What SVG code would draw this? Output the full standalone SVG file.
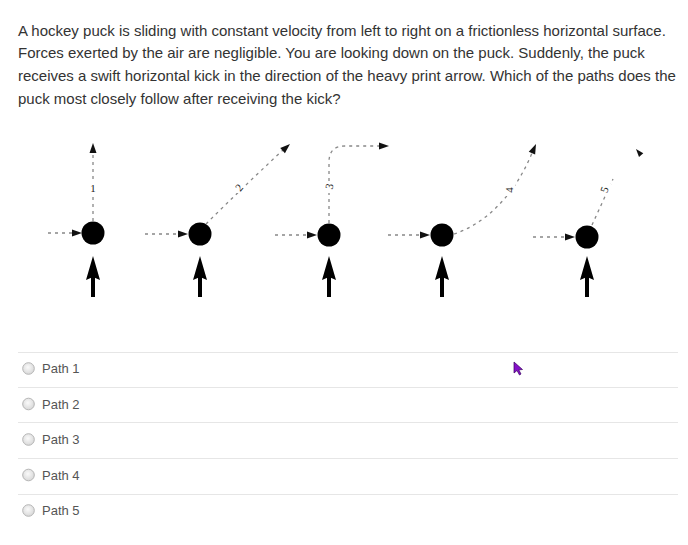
<svg xmlns="http://www.w3.org/2000/svg" width="688" height="545" viewBox="0 0 688 545">
<style>
.q{font-family:"Liberation Sans",Arial,sans-serif;font-size:15px;fill:#333}
.opt{font-family:"Liberation Sans",Arial,sans-serif;font-size:13px;fill:#555}
.dash{fill:none;stroke:#888;stroke-width:1.3;stroke-dasharray:3 4}
.puck{fill:#000}
.head{fill:#111}
.lbl{font-family:"Liberation Serif","Times New Roman",serif;font-size:11px;fill:#222}
.bg{fill:#fff}
.sep{stroke:#e6e6e6;stroke-width:1}
.radio{fill:url(#rg);stroke:#b5b5b5;stroke-width:1}
</style>
<defs>
<radialGradient id="rg" cx="0.45" cy="0.4" r="0.6">
<stop offset="0" stop-color="#fafafa"/>
<stop offset="1" stop-color="#d8d8d8"/>
</radialGradient>
<g id="kick"><polygon points="0,256 7,280 0,277 -7,280" fill="#000"/><rect x="-2" y="277" width="4" height="20" fill="#000"/></g>
<polygon id="ah" points="0,0 -10,-3.5 -10,3.5" class="head"/>
</defs>
<rect width="688" height="545" fill="#fff"/>
<g id="question">
<text class="q" x="18" y="36">A hockey puck is sliding with constant velocity from left to right on a frictionless horizontal surface.</text>
<text class="q" x="18" y="58">Forces exerted by the air are negligible. You are looking down on the puck. Suddenly, the puck</text>
<text class="q" x="18" y="81">receives a swift horizontal kick in the direction of the heavy print arrow. Which of the paths does the</text>
<text class="q" x="18" y="104">puck most closely follow after receiving the kick?</text>
</g>
<g id="connectors">
<path class="dash" d="M48,233 L75,233"/>
<use href="#ah" transform="translate(82,233)"/>
<path class="dash" d="M93,221 L93,153"/>
<use href="#ah" transform="translate(93,143) rotate(-90)"/>
<path class="dash" d="M145,234 L180,234"/>
<use href="#ah" transform="translate(188,234)"/>
<path class="dash" d="M206,224 Q240,190 283,150"/>
<use href="#ah" transform="translate(290,144) rotate(-42)"/>
<path class="dash" d="M275,235 L309,235"/>
<use href="#ah" transform="translate(317,235)"/>
<path class="dash" d="M329,223 L329,162 Q329,146 345,146 L380,146"/>
<use href="#ah" transform="translate(389,146)"/>
<path class="dash" d="M388,235 L422,235"/>
<use href="#ah" transform="translate(430,235)"/>
<path class="dash" d="M454,234 C485,224 515,195 532,153"/>
<use href="#ah" transform="translate(536,144) rotate(-66)"/>
<path class="dash" d="M533,237 L567,237"/>
<use href="#ah" transform="translate(575,237)"/>
<path class="dash" d="M592,225 L613,179"/>
<use href="#ah" transform="translate(636,149) rotate(-130) scale(0.8)"/>
</g>
<g id="path1"><circle class="puck" cx="93" cy="233" r="11.5"/><use href="#kick" x="93"/><rect class="bg" x="89" y="180" width="8" height="14"/><text class="lbl" x="93" y="192" text-anchor="middle">1</text></g>
<g id="path2"><circle class="puck" cx="200" cy="234" r="11.5"/><use href="#kick" x="200"/><rect class="bg" x="235" y="181" width="10" height="12"/><text class="lbl" transform="translate(242,190) rotate(-50)" text-anchor="middle">2</text></g>
<g id="path3"><circle class="puck" cx="329" cy="235" r="11.5"/><use href="#kick" x="329"/><rect class="bg" x="325" y="181" width="10" height="12"/><text class="lbl" transform="translate(333,187) rotate(-80)" text-anchor="middle">3</text></g>
<g id="path4"><circle class="puck" cx="442" cy="235" r="11.5"/><use href="#kick" x="442"/><rect class="bg" x="504" y="184" width="11" height="12"/><text class="lbl" transform="translate(513,190) rotate(-90)" text-anchor="middle">4</text></g>
<g id="path5"><circle class="puck" cx="587" cy="237" r="11.5"/><use href="#kick" x="587"/><rect class="bg" x="600" y="184" width="11" height="12"/><text class="lbl" transform="translate(608,191) rotate(-70)" text-anchor="middle">5</text></g>
<g id="options">
<line class="sep" x1="18" y1="352.5" x2="678" y2="352.5"/>
<line class="sep" x1="18" y1="387.5" x2="678" y2="387.5"/>
<line class="sep" x1="18" y1="422.5" x2="678" y2="422.5"/>
<line class="sep" x1="18" y1="458.5" x2="678" y2="458.5"/>
<line class="sep" x1="18" y1="494.5" x2="678" y2="494.5"/>
<g id="opt1"><circle class="radio" cx="28.5" cy="368.5" r="5.8"/><text class="opt" x="42" y="373">Path 1</text></g>
<g id="opt2"><circle class="radio" cx="28.5" cy="404" r="5.8"/><text class="opt" x="42" y="408.5">Path 2</text></g>
<g id="opt3"><circle class="radio" cx="28.5" cy="439.5" r="5.8"/><text class="opt" x="42" y="444">Path 3</text></g>
<g id="opt4"><circle class="radio" cx="28.5" cy="475" r="5.8"/><text class="opt" x="42" y="479.5">Path 4</text></g>
<g id="opt5"><circle class="radio" cx="28.5" cy="510.5" r="5.8"/><text class="opt" x="42" y="515">Path 5</text></g>
</g>
<polygon id="cursor" points="514,362 514,373 517,370.5 519.5,375 521,374 518.8,369.8 522.5,369.5" fill="#8410c8" stroke="#3a0060" stroke-width="0.7"/>
</svg>
